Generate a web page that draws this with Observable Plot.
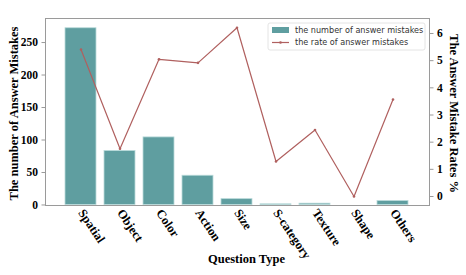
<!DOCTYPE html>
<html>
<head>
<meta charset="utf-8">
<script src="https://cdn.jsdelivr.net/npm/d3@7"></script>
<script src="https://cdn.jsdelivr.net/npm/@observablehq/plot@0.6"></script>
<style>
  html, body { margin: 0; padding: 0; background: #fff; }
  #chart svg { display: block; }
</style>
</head>
<body>
<div id="chart"></div>
<script>
const categories = ["Spatial", "Object", "Color", "Action", "Size", "S-category", "Texture", "Shape", "Others"];
const mistakeCounts = [272, 83, 104, 45, 9, 1, 2, 0, 6];
const mistakeRates = [5.41, 1.76, 5.05, 4.92, 6.21, 1.29, 2.45, 0, 3.57];
const countTicks = [0, 50, 100, 150, 200, 250];
const rateTicks = [0, 1, 2, 3, 4, 5, 6];
const legendLabels = ["the number of answer mistakes", "the rate of answer mistakes"];
const xTitle = "Question Type";
const yLeftTitle = "The number of Answer Mistakes";
const yRightTitle = "The Answer Mistake Rates %";

const barColor = "#5f9ea0";
const lineColor = "#b0605f";
const serif = "'Liberation Serif', 'Times New Roman', serif";

// axis domains (left: counts, right: rates) aligned on the same frame
const countDomain = [-0.8, 287];
const rateDomain = [-0.331, 6.552];
const toCount = r => countDomain[0] + (r - rateDomain[0]) / (rateDomain[1] - rateDomain[0]) * (countDomain[1] - countDomain[0]);
const fromCount = c => rateDomain[0] + (c - countDomain[0]) / (countDomain[1] - countDomain[0]) * (rateDomain[1] - rateDomain[0]);

const data = categories.map((c, i) => ({category: c, count: mistakeCounts[i], rate: mistakeRates[i]}));

const chart = Plot.plot({
  width: 466,
  height: 275,
  marginLeft: 45,
  marginRight: 37,
  marginTop: 18,
  marginBottom: 70,
  style: {fontFamily: serif, background: "#fff"},
  x: {type: "band", domain: categories, paddingInner: 0.2, paddingOuter: 0.44},
  y: {domain: countDomain},
  marks: [
    Plot.barY(data, {x: "category", y: "count", fill: barColor, stroke: "#b9dada", strokeWidth: 0.8}),
    Plot.line(data, {x: "category", y: d => toCount(d.rate), stroke: lineColor, strokeWidth: 1.2}),
    Plot.dot(data, {x: "category", y: d => toCount(d.rate), r: 1.3, fill: lineColor, stroke: null}),
    Plot.frame({stroke: "#9a9a9a", strokeWidth: 1}),
    Plot.axisY({anchor: "left", ticks: countTicks, tickSize: 3.5, tickPadding: 4, stroke: "#9a9a9a", color: "#000",
      fontSize: 11.5, fontWeight: "bold", fontFamily: serif, label: null}),
    Plot.axisY({anchor: "right", ticks: rateTicks.map(toCount), tickFormat: d => Math.round(fromCount(d)),
      tickSize: 3.5, tickPadding: 4, stroke: "#9a9a9a", color: "#000",
      fontSize: 11.5, fontWeight: "bold", fontFamily: serif, label: null}),
    Plot.axisX({anchor: "bottom", tickSize: 0, tickPadding: 5, tickRotate: 56, color: "#000",
      fontSize: 12.5, fontWeight: "bold", fontFamily: serif, label: null}),
    Plot.text([yLeftTitle], {frameAnchor: "left", dx: -32, dy: 1.5, rotate: -90, text: d => d, textAnchor: "middle",
      fontSize: 12.5, fontWeight: "bold", fontFamily: serif, fill: "#000"}),
    Plot.text([yRightTitle], {frameAnchor: "right", dx: 24, dy: 1.5, rotate: 90, text: d => d, textAnchor: "middle",
      fontSize: 12.5, fontWeight: "bold", fontFamily: serif, fill: "#000"}),
    Plot.text([xTitle], {frameAnchor: "bottom", dx: 9, dy: 57, lineAnchor: "bottom", text: d => d, textAnchor: "middle",
      fontSize: 12.5, fontWeight: "bold", fontFamily: serif, fill: "#000"})
  ]
});

// legend inside the plot area (upper right)
const svg = d3.select(chart);
const lg = svg.append("g").attr("font-family", "'DejaVu Sans', sans-serif").attr("font-size", 8.1).attr("text-anchor", "start");
lg.append("rect").attr("x", 268).attr("y", 23).attr("width", 157).attr("height", 27)
  .attr("rx", 2).attr("fill", "#fff").attr("fill-opacity", 0.85).attr("stroke", "#dddddd").attr("stroke-width", 0.8);
lg.append("rect").attr("x", 272).attr("y", 27).attr("width", 17).attr("height", 6).attr("fill", barColor);
lg.append("line").attr("x1", 272).attr("x2", 289).attr("y1", 42.5).attr("y2", 42.5)
  .attr("stroke", lineColor).attr("stroke-width", 1.2);
lg.append("circle").attr("cx", 280.5).attr("cy", 42.5).attr("r", 1.3).attr("fill", lineColor);
legendLabels.forEach((t, i) => {
  lg.append("text").attr("x", 295).attr("y", 30 + i * 12.5).attr("dy", "0.35em").attr("fill", "#333").text(t);
});

document.getElementById("chart").appendChild(chart);
</script>
</body>
</html>
